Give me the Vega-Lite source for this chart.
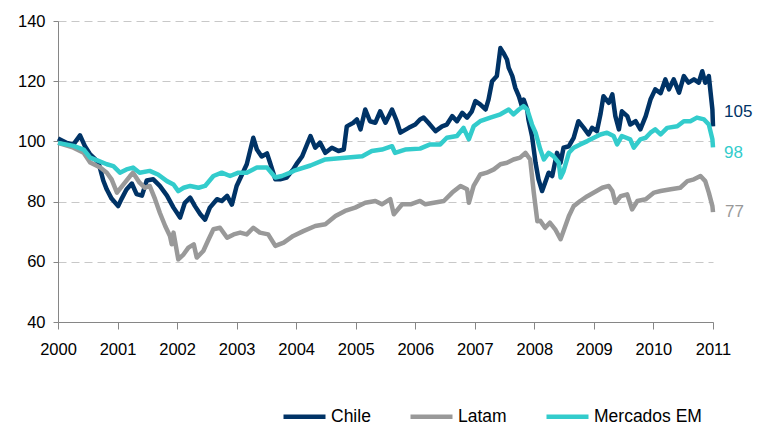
{
  "$schema": "https://vega.github.io/schema/vega-lite/v6.json",
  "width": 655,
  "height": 301,
  "autosize": {"type": "none"},
  "padding": {"left": 58, "top": 21, "right": 52, "bottom": 103},
  "background": "white",
  "config": {"view": {"stroke": null}, "font": "Liberation Sans"},
  "datasets": {
    "series": [
      {"series":"Chile","year":2000.00,"value":101},{"series":"Chile","year":2000.15,"value":99.5},{"series":"Chile","year":2000.26,"value":99},{"series":"Chile","year":2000.37,"value":102},{"series":"Chile","year":2000.45,"value":98.5},{"series":"Chile","year":2000.54,"value":95.7},{"series":"Chile","year":2000.68,"value":93},{"series":"Chile","year":2000.76,"value":87},{"series":"Chile","year":2000.82,"value":84},{"series":"Chile","year":2000.90,"value":81},
      {"series":"Chile","year":2001.01,"value":78.5},{"series":"Chile","year":2001.07,"value":81},{"series":"Chile","year":2001.15,"value":84},{"series":"Chile","year":2001.24,"value":86},{"series":"Chile","year":2001.32,"value":82.5},{"series":"Chile","year":2001.41,"value":82},{"series":"Chile","year":2001.49,"value":87},{"series":"Chile","year":2001.60,"value":87.4},{"series":"Chile","year":2001.71,"value":85.2},{"series":"Chile","year":2001.83,"value":82},{"series":"Chile","year":2001.94,"value":78},
      {"series":"Chile","year":2002.05,"value":74.7},{"series":"Chile","year":2002.13,"value":79.6},{"series":"Chile","year":2002.22,"value":81.3},{"series":"Chile","year":2002.30,"value":78.5},{"series":"Chile","year":2002.39,"value":75.8},{"series":"Chile","year":2002.47,"value":74},{"series":"Chile","year":2002.55,"value":78},{"series":"Chile","year":2002.67,"value":80.8},{"series":"Chile","year":2002.75,"value":80.2},{"series":"Chile","year":2002.84,"value":81.9},{"series":"Chile","year":2002.92,"value":79},
      {"series":"Chile","year":2003.00,"value":85.2},{"series":"Chile","year":2003.09,"value":89},{"series":"Chile","year":2003.17,"value":92.4},{"series":"Chile","year":2003.28,"value":101.2},{"series":"Chile","year":2003.34,"value":97.3},{"series":"Chile","year":2003.42,"value":95},{"series":"Chile","year":2003.51,"value":96},{"series":"Chile","year":2003.56,"value":93},{"series":"Chile","year":2003.65,"value":87.4},{"series":"Chile","year":2003.73,"value":87.4},{"series":"Chile","year":2003.84,"value":88},{"series":"Chile","year":2003.95,"value":90.7},
      {"series":"Chile","year":2004.02,"value":92.9},{"series":"Chile","year":2004.10,"value":95},{"series":"Chile","year":2004.24,"value":101.8},{"series":"Chile","year":2004.32,"value":97.9},{"series":"Chile","year":2004.40,"value":99.6},{"series":"Chile","year":2004.49,"value":96.2},{"series":"Chile","year":2004.60,"value":97.9},{"series":"Chile","year":2004.71,"value":96.8},{"series":"Chile","year":2004.80,"value":97.3},{"series":"Chile","year":2004.85,"value":105},{"series":"Chile","year":2004.96,"value":106.2},
      {"series":"Chile","year":2005.02,"value":107.3},{"series":"Chile","year":2005.08,"value":104},{"series":"Chile","year":2005.16,"value":110.6},{"series":"Chile","year":2005.24,"value":106.7},{"series":"Chile","year":2005.33,"value":106.2},{"series":"Chile","year":2005.41,"value":110},{"series":"Chile","year":2005.50,"value":106.2},{"series":"Chile","year":2005.61,"value":110.6},{"series":"Chile","year":2005.69,"value":106.7},{"series":"Chile","year":2005.75,"value":102.9},{"series":"Chile","year":2005.89,"value":104.5},
      {"series":"Chile","year":2006.00,"value":105.6},{"series":"Chile","year":2006.08,"value":107.3},{"series":"Chile","year":2006.14,"value":107.9},{"series":"Chile","year":2006.22,"value":106.2},{"series":"Chile","year":2006.34,"value":103.4},{"series":"Chile","year":2006.45,"value":105},{"series":"Chile","year":2006.53,"value":105.6},{"series":"Chile","year":2006.62,"value":108.4},{"series":"Chile","year":2006.70,"value":106.7},{"series":"Chile","year":2006.79,"value":109.5},{"series":"Chile","year":2006.87,"value":107.9},{"series":"Chile","year":2006.95,"value":110},
      {"series":"Chile","year":2007.01,"value":113.4},{"series":"Chile","year":2007.09,"value":112.3},{"series":"Chile","year":2007.18,"value":110.6},{"series":"Chile","year":2007.23,"value":113.9},{"series":"Chile","year":2007.29,"value":120},{"series":"Chile","year":2007.37,"value":121.7},{"series":"Chile","year":2007.43,"value":131},{"series":"Chile","year":2007.48,"value":129.4},{"series":"Chile","year":2007.54,"value":127.2},{"series":"Chile","year":2007.57,"value":124.4},{"series":"Chile","year":2007.63,"value":121.7},{"series":"Chile","year":2007.68,"value":117.8},{"series":"Chile","year":2007.74,"value":115},{"series":"Chile","year":2007.79,"value":111.7},{"series":"Chile","year":2007.82,"value":113.9},{"series":"Chile","year":2007.88,"value":110.6},{"series":"Chile","year":2007.90,"value":107.3},{"series":"Chile","year":2007.96,"value":101.8},
      {"series":"Chile","year":2008.02,"value":92.9},{"series":"Chile","year":2008.07,"value":87.4},{"series":"Chile","year":2008.13,"value":83.5},{"series":"Chile","year":2008.18,"value":86.3},{"series":"Chile","year":2008.24,"value":89.6},{"series":"Chile","year":2008.30,"value":88.5},{"series":"Chile","year":2008.38,"value":96.2},{"series":"Chile","year":2008.44,"value":92.9},{"series":"Chile","year":2008.49,"value":97.9},{"series":"Chile","year":2008.58,"value":98.4},{"series":"Chile","year":2008.66,"value":101.2},{"series":"Chile","year":2008.74,"value":106.7},{"series":"Chile","year":2008.83,"value":104.5},{"series":"Chile","year":2008.91,"value":102.3},{"series":"Chile","year":2008.97,"value":104.5},
      {"series":"Chile","year":2009.05,"value":103.4},{"series":"Chile","year":2009.11,"value":109},{"series":"Chile","year":2009.16,"value":115},{"series":"Chile","year":2009.25,"value":112.8},{"series":"Chile","year":2009.31,"value":115.6},{"series":"Chile","year":2009.36,"value":108.4},{"series":"Chile","year":2009.42,"value":104},{"series":"Chile","year":2009.47,"value":110},{"series":"Chile","year":2009.56,"value":108.4},{"series":"Chile","year":2009.61,"value":105.6},{"series":"Chile","year":2009.70,"value":106.7},{"series":"Chile","year":2009.78,"value":104},{"series":"Chile","year":2009.87,"value":108.4},{"series":"Chile","year":2009.95,"value":113.9},
      {"series":"Chile","year":2010.03,"value":117.3},{"series":"Chile","year":2010.12,"value":116},{"series":"Chile","year":2010.20,"value":120.6},{"series":"Chile","year":2010.26,"value":117.3},{"series":"Chile","year":2010.34,"value":120.6},{"series":"Chile","year":2010.43,"value":116.2},{"series":"Chile","year":2010.51,"value":121.7},{"series":"Chile","year":2010.59,"value":119.5},{"series":"Chile","year":2010.68,"value":120.6},{"series":"Chile","year":2010.76,"value":119.5},{"series":"Chile","year":2010.82,"value":123.3},{"series":"Chile","year":2010.87,"value":119.5},{"series":"Chile","year":2010.93,"value":121.7},{"series":"Chile","year":2010.96,"value":116.2},{"series":"Chile","year":2010.99,"value":110.6},{"series":"Chile","year":2011.0,"value":105},

      {"series":"Latam","year":2000.00,"value":99.5},{"series":"Latam","year":2000.26,"value":97.9},{"series":"Latam","year":2000.43,"value":96.2},{"series":"Latam","year":2000.54,"value":93},{"series":"Latam","year":2000.71,"value":91.3},{"series":"Latam","year":2000.82,"value":89.6},{"series":"Latam","year":2000.90,"value":87.4},{"series":"Latam","year":2000.99,"value":83},
      {"series":"Latam","year":2001.10,"value":85.7},{"series":"Latam","year":2001.21,"value":88.5},{"series":"Latam","year":2001.26,"value":89.6},{"series":"Latam","year":2001.37,"value":86.3},{"series":"Latam","year":2001.46,"value":84.6},{"series":"Latam","year":2001.54,"value":85.2},{"series":"Latam","year":2001.63,"value":80.8},{"series":"Latam","year":2001.71,"value":76.3},{"series":"Latam","year":2001.80,"value":71.9},{"series":"Latam","year":2001.88,"value":68.6},{"series":"Latam","year":2001.91,"value":65.8},{"series":"Latam","year":2001.94,"value":69.7},
      {"series":"Latam","year":2002.02,"value":60.8},{"series":"Latam","year":2002.11,"value":62.5},{"series":"Latam","year":2002.19,"value":64.7},{"series":"Latam","year":2002.28,"value":65.8},{"series":"Latam","year":2002.33,"value":61.4},{"series":"Latam","year":2002.44,"value":63.6},{"series":"Latam","year":2002.53,"value":67.5},{"series":"Latam","year":2002.61,"value":70.8},{"series":"Latam","year":2002.72,"value":71.3},{"series":"Latam","year":2002.84,"value":68},{"series":"Latam","year":2002.95,"value":69.1},
      {"series":"Latam","year":2003.06,"value":69.7},{"series":"Latam","year":2003.17,"value":69.1},{"series":"Latam","year":2003.28,"value":71.3},{"series":"Latam","year":2003.39,"value":69.7},{"series":"Latam","year":2003.53,"value":69.1},{"series":"Latam","year":2003.65,"value":65.3},{"series":"Latam","year":2003.79,"value":66.4},{"series":"Latam","year":2003.95,"value":68.6},
      {"series":"Latam","year":2004.12,"value":70.2},{"series":"Latam","year":2004.32,"value":71.9},{"series":"Latam","year":2004.49,"value":72.5},{"series":"Latam","year":2004.66,"value":75.2},{"series":"Latam","year":2004.82,"value":76.9},{"series":"Latam","year":2004.99,"value":78},
      {"series":"Latam","year":2005.16,"value":79.6},{"series":"Latam","year":2005.33,"value":80.2},{"series":"Latam","year":2005.44,"value":79.1},{"series":"Latam","year":2005.58,"value":80.8},{"series":"Latam","year":2005.64,"value":75.8},{"series":"Latam","year":2005.78,"value":79.1},{"series":"Latam","year":2005.92,"value":79.1},
      {"series":"Latam","year":2006.08,"value":80.2},{"series":"Latam","year":2006.17,"value":79.1},{"series":"Latam","year":2006.31,"value":79.6},{"series":"Latam","year":2006.48,"value":80.2},{"series":"Latam","year":2006.62,"value":83},{"series":"Latam","year":2006.76,"value":85.2},{"series":"Latam","year":2006.87,"value":84.1},{"series":"Latam","year":2006.90,"value":79.6},{"series":"Latam","year":2006.98,"value":85.2},
      {"series":"Latam","year":2007.09,"value":89},{"series":"Latam","year":2007.20,"value":89.6},{"series":"Latam","year":2007.32,"value":90.7},{"series":"Latam","year":2007.43,"value":92.4},{"series":"Latam","year":2007.54,"value":92.9},{"series":"Latam","year":2007.65,"value":94},{"series":"Latam","year":2007.76,"value":94.6},{"series":"Latam","year":2007.85,"value":96.2},{"series":"Latam","year":2007.93,"value":94},{"series":"Latam","year":2007.99,"value":83},
      {"series":"Latam","year":2008.05,"value":73.5},{"series":"Latam","year":2008.10,"value":73.6},{"series":"Latam","year":2008.18,"value":71.3},{"series":"Latam","year":2008.26,"value":73},{"series":"Latam","year":2008.35,"value":70.8},{"series":"Latam","year":2008.44,"value":67.5},{"series":"Latam","year":2008.49,"value":70.2},{"series":"Latam","year":2008.58,"value":75.2},{"series":"Latam","year":2008.66,"value":78.5},{"series":"Latam","year":2008.77,"value":80.2},{"series":"Latam","year":2008.89,"value":81.8},
      {"series":"Latam","year":2009.00,"value":83},{"series":"Latam","year":2009.14,"value":84.6},{"series":"Latam","year":2009.25,"value":85.2},{"series":"Latam","year":2009.31,"value":83.5},{"series":"Latam","year":2009.36,"value":79.6},{"series":"Latam","year":2009.45,"value":81.8},{"series":"Latam","year":2009.56,"value":82.4},{"series":"Latam","year":2009.64,"value":77.4},{"series":"Latam","year":2009.73,"value":80.2},{"series":"Latam","year":2009.87,"value":80.8},
      {"series":"Latam","year":2010.01,"value":83},{"series":"Latam","year":2010.12,"value":83.5},{"series":"Latam","year":2010.29,"value":84.1},{"series":"Latam","year":2010.45,"value":84.6},{"series":"Latam","year":2010.57,"value":86.8},{"series":"Latam","year":2010.68,"value":87.4},{"series":"Latam","year":2010.79,"value":88.5},{"series":"Latam","year":2010.87,"value":86.8},{"series":"Latam","year":2010.93,"value":83},{"series":"Latam","year":2010.99,"value":78.5},{"series":"Latam","year":2011.0,"value":76.5},

      {"series":"Mercados EM","year":2000.00,"value":99.5},{"series":"Mercados EM","year":2000.26,"value":98.5},{"series":"Mercados EM","year":2000.43,"value":97.3},{"series":"Mercados EM","year":2000.54,"value":94.6},{"series":"Mercados EM","year":2000.68,"value":93.5},{"series":"Mercados EM","year":2000.82,"value":92.4},{"series":"Mercados EM","year":2000.93,"value":91.8},
      {"series":"Mercados EM","year":2001.04,"value":89.6},{"series":"Mercados EM","year":2001.15,"value":90.7},{"series":"Mercados EM","year":2001.26,"value":91.3},{"series":"Mercados EM","year":2001.37,"value":89.6},{"series":"Mercados EM","year":2001.54,"value":90.2},{"series":"Mercados EM","year":2001.68,"value":89},{"series":"Mercados EM","year":2001.83,"value":86.8},{"series":"Mercados EM","year":2001.94,"value":85.7},
      {"series":"Mercados EM","year":2002.02,"value":83.5},{"series":"Mercados EM","year":2002.11,"value":84.6},{"series":"Mercados EM","year":2002.22,"value":85.2},{"series":"Mercados EM","year":2002.36,"value":84.6},{"series":"Mercados EM","year":2002.47,"value":85.2},{"series":"Mercados EM","year":2002.61,"value":88.5},{"series":"Mercados EM","year":2002.75,"value":89.6},{"series":"Mercados EM","year":2002.89,"value":88.5},
      {"series":"Mercados EM","year":2003.03,"value":89.6},{"series":"Mercados EM","year":2003.17,"value":89.6},{"series":"Mercados EM","year":2003.34,"value":91.3},{"series":"Mercados EM","year":2003.51,"value":91.3},{"series":"Mercados EM","year":2003.65,"value":88},{"series":"Mercados EM","year":2003.76,"value":88.5},{"series":"Mercados EM","year":2003.90,"value":89.6},
      {"series":"Mercados EM","year":2003.98,"value":90.4},{"series":"Mercados EM","year":2004.24,"value":92},{"series":"Mercados EM","year":2004.49,"value":94},{"series":"Mercados EM","year":2004.82,"value":94.6},
      {"series":"Mercados EM","year":2005.11,"value":95.1},{"series":"Mercados EM","year":2005.27,"value":96.8},{"series":"Mercados EM","year":2005.44,"value":97.3},{"series":"Mercados EM","year":2005.61,"value":98.4},{"series":"Mercados EM","year":2005.66,"value":96.2},{"series":"Mercados EM","year":2005.83,"value":97.3},
      {"series":"Mercados EM","year":2006.08,"value":97.6},{"series":"Mercados EM","year":2006.25,"value":99},{"series":"Mercados EM","year":2006.42,"value":99},{"series":"Mercados EM","year":2006.53,"value":101.2},{"series":"Mercados EM","year":2006.70,"value":101.8},{"series":"Mercados EM","year":2006.81,"value":104.5},{"series":"Mercados EM","year":2006.90,"value":100.7},{"series":"Mercados EM","year":2006.98,"value":105},
      {"series":"Mercados EM","year":2007.09,"value":106.7},{"series":"Mercados EM","year":2007.26,"value":107.9},{"series":"Mercados EM","year":2007.43,"value":109},{"series":"Mercados EM","year":2007.57,"value":110.6},{"series":"Mercados EM","year":2007.65,"value":109},{"series":"Mercados EM","year":2007.74,"value":110.6},{"series":"Mercados EM","year":2007.82,"value":111.7},{"series":"Mercados EM","year":2007.88,"value":110.6},{"series":"Mercados EM","year":2007.96,"value":105.6},
      {"series":"Mercados EM","year":2008.02,"value":102.9},{"series":"Mercados EM","year":2008.10,"value":97.3},{"series":"Mercados EM","year":2008.16,"value":94},{"series":"Mercados EM","year":2008.24,"value":96.2},{"series":"Mercados EM","year":2008.32,"value":95.1},{"series":"Mercados EM","year":2008.41,"value":92.9},{"series":"Mercados EM","year":2008.44,"value":88},{"series":"Mercados EM","year":2008.49,"value":90.1},{"series":"Mercados EM","year":2008.58,"value":96.2},{"series":"Mercados EM","year":2008.66,"value":97.9},{"series":"Mercados EM","year":2008.77,"value":99},{"series":"Mercados EM","year":2008.89,"value":100.1},
      {"series":"Mercados EM","year":2009.00,"value":101.2},{"series":"Mercados EM","year":2009.11,"value":102.3},{"series":"Mercados EM","year":2009.22,"value":102.9},{"series":"Mercados EM","year":2009.33,"value":101.8},{"series":"Mercados EM","year":2009.39,"value":99},{"series":"Mercados EM","year":2009.47,"value":101.8},{"series":"Mercados EM","year":2009.61,"value":100.7},{"series":"Mercados EM","year":2009.67,"value":97.9},{"series":"Mercados EM","year":2009.78,"value":100.7},{"series":"Mercados EM","year":2009.87,"value":101.2},{"series":"Mercados EM","year":2009.95,"value":102.9},
      {"series":"Mercados EM","year":2010.03,"value":104},{"series":"Mercados EM","year":2010.12,"value":102.3},{"series":"Mercados EM","year":2010.23,"value":104.5},{"series":"Mercados EM","year":2010.40,"value":105},{"series":"Mercados EM","year":2010.51,"value":106.7},{"series":"Mercados EM","year":2010.62,"value":106.7},{"series":"Mercados EM","year":2010.73,"value":107.9},{"series":"Mercados EM","year":2010.85,"value":107.3},{"series":"Mercados EM","year":2010.93,"value":105.6},{"series":"Mercados EM","year":2010.99,"value":100.7},{"series":"Mercados EM","year":2011.0,"value":98}
    ]
  },
  "layer": [
    {
      "data": {"name": "series"},
      "mark": {"type": "line", "strokeWidth": 4.5, "strokeJoin": "round"},
      "encoding": {
        "x": {"field": "year", "type": "quantitative",
          "scale": {"domain": [2000, 2011], "nice": false, "zero": false},
          "axis": {"values": [2000,2001,2002,2003,2004,2005,2006,2007,2008,2009,2010,2011], "format": "d", "title": null, "grid": false,
            "domainColor": "#868686", "tickColor": "#868686", "tickSize": 7, "labelFontSize": 16.5, "labelColor": "#000000", "labelPadding": 12, "labelFlush": false}},
        "y": {"field": "value", "type": "quantitative",
          "scale": {"domain": [40, 140], "nice": false, "zero": false},
          "axis": {"values": [40,60,80,100,120,140], "title": null, "grid": true, "gridDash": [8,5], "gridColor": "#c8c8c8",
            "domainColor": "#868686", "tickColor": "#868686", "tickSize": 5, "labelFontSize": 16.5, "labelPadding": 8, "labelColor": "#000000"}},
        "color": {"field": "series", "type": "nominal",
          "scale": {"domain": ["Chile", "Latam", "Mercados EM"], "range": ["#003366", "#999999", "#33CCCC"]},
          "legend": {"orient": "none", "legendX": 223, "legendY": 372, "direction": "horizontal", "title": null,
            "symbolType": "stroke", "symbolSize": 1764, "symbolStrokeWidth": 4.5, "labelFontSize": 17.5, "labelOffset": 3,
            "columnPadding": 30, "labelColor": "#000000"}}
      }
    },
    {
      "data": {"values": [{"year": 2011, "value": 105, "label": "105"}]},
      "mark": {"type": "text", "align": "left", "baseline": "middle", "dx": 11, "dy": -14, "fontSize": 17, "color": "#003366"},
      "encoding": {"x": {"field": "year", "type": "quantitative"}, "y": {"field": "value", "type": "quantitative"}, "text": {"field": "label"}}
    },
    {
      "data": {"values": [{"year": 2011, "value": 98, "label": "98"}]},
      "mark": {"type": "text", "align": "left", "baseline": "middle", "dx": 11, "dy": 6, "fontSize": 17, "color": "#33CCCC"},
      "encoding": {"x": {"field": "year", "type": "quantitative"}, "y": {"field": "value", "type": "quantitative"}, "text": {"field": "label"}}
    },
    {
      "data": {"values": [{"year": 2011, "value": 77, "label": "77"}]},
      "mark": {"type": "text", "align": "left", "baseline": "middle", "dx": 12, "dy": 1, "fontSize": 17, "color": "#999999"},
      "encoding": {"x": {"field": "year", "type": "quantitative"}, "y": {"field": "value", "type": "quantitative"}, "text": {"field": "label"}}
    }
  ]
}
